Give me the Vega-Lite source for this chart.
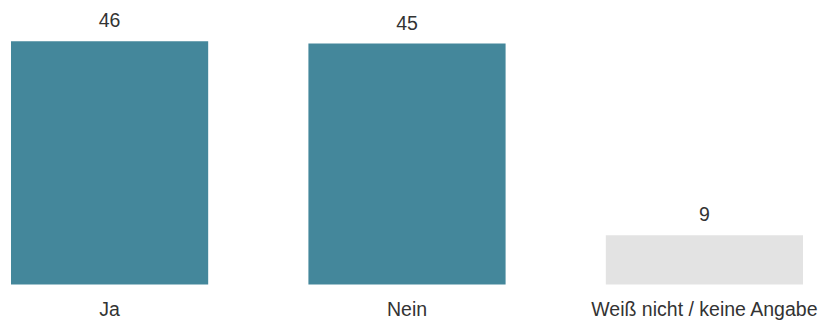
{
  "$schema": "https://vega.github.io/schema/vega-lite/v6.json",
  "autosize": {"type": "none"},
  "padding": {"left": 0, "top": 0, "right": 18, "bottom": 38.5},
  "width": 814,
  "height": 284.5,
  "background": "white",
  "data": {"values": [
    {"antwort": "Ja", "wert": 45.9, "gruppe": "a"},
    {"antwort": "Nein", "wert": 45.45, "gruppe": "a"},
    {"antwort": "Weiß nicht / keine Angabe", "wert": 9.3, "gruppe": "b"}
  ]},
  "encoding": {
    "x": {"field": "antwort", "type": "nominal", "sort": null,
      "scale": {"paddingInner": 0.337, "paddingOuter": 0.037},
      "axis": {"title": null, "domain": false, "ticks": false, "labelAngle": 0, "labelLimit": 0,
        "labelFont": "Liberation Sans", "labelFontSize": 19.5, "labelColor": "#333333", "labelPadding": 16}},
    "y": {"field": "wert", "type": "quantitative", "scale": {"domain": [0, 53.68], "nice": false}, "axis": null}
  },
  "layer": [
    {"mark": {"type": "bar"},
     "encoding": {"color": {"field": "gruppe", "type": "nominal", "legend": null,
       "scale": {"domain": ["a", "b"], "range": ["#44879B", "#E3E3E3"]}}}},
    {"mark": {"type": "text", "baseline": "alphabetic", "dy": -14, "font": "Liberation Sans", "fontSize": 19.5, "color": "#333333"},
     "encoding": {"text": {"field": "wert", "type": "quantitative", "format": ".0f"}}}
  ],
  "config": {"view": {"stroke": null}}
}
